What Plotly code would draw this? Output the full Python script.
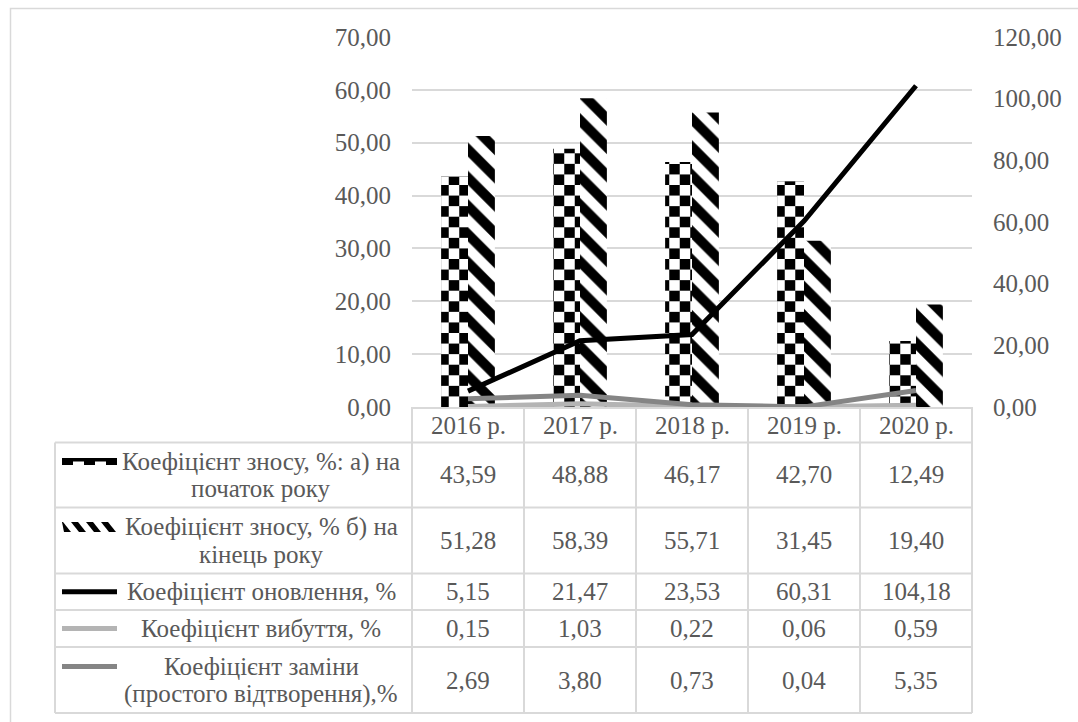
import plotly.graph_objects as go

# ---- data ----
years = ["2016 р.", "2017 р.", "2018 р.", "2019 р.", "2020 р."]
wear_start = [43.59, 48.88, 46.17, 42.70, 12.49]      # Коефіцієнт зносу на початок року
wear_end = [51.28, 58.39, 55.71, 31.45, 19.40]        # Коефіцієнт зносу на кінець року
renewal = [5.15, 21.47, 23.53, 60.31, 104.18]         # Коефіцієнт оновлення
disposal = [0.15, 1.03, 0.22, 0.06, 0.59]             # Коефіцієнт вибуття
replacement = [2.69, 3.80, 0.73, 0.04, 5.35]          # Коефіцієнт заміни

row_labels = [
    ["Коефіцієнт зносу, %: а) на", "початок року"],
    ["Коефіцієнт зносу, % б) на", "кінець року"],
    ["Коефіцієнт оновлення, %"],
    ["Коефіцієнт вибуття, %"],
    ["Коефіцієнт заміни", "(простого відтворення),%"],
]
row_values = [wear_start, wear_end, renewal, disposal, replacement]

# ---- geometry / style ----
W, H = 1078, 722
L, R, T, B = 412, 106, 37, 315
PW, PH = W - L - R, H - T - B
TXT = "#595959"
GRID = "#d9d9d9"
FONT = "Liberation Serif"
FS = 25
LIGHT = "#b4b4b4"
DARK = "#858585"


def fx(px):
    return (px - L) / PW


def fy(py):
    return (H - B - py) / PH


def fmt(v):
    return f"{v:.2f}".replace(".", ",")


idx = list(range(len(years)))
BW = 0.24          # width of one bar in category units
SEG = 2.0          # height of one checker row (left-axis units)

fig = go.Figure()

# checkered bars: vertical stripes, with every second row inverted
fig.add_trace(go.Bar(
    x=idx, y=wear_start, width=BW, offset=-BW, yaxis="y",
    marker=dict(color="white", line=dict(width=0),
                pattern=dict(shape="|", fgcolor="black", bgcolor="white",
                             size=21, solidity=0.5, fillmode="replace")),
    showlegend=False, hoverinfo="skip",
))
cx, cb, ch = [], [], []
for i, v in zip(idx, wear_start):
    k = 1
    while k * SEG < v:
        cx.append(i)
        cb.append(k * SEG)
        ch.append(min(SEG, v - k * SEG))
        k += 2
fig.add_trace(go.Bar(
    x=cx, y=ch, base=cb, width=BW, offset=-BW, yaxis="y",
    marker=dict(color="black", line=dict(width=0),
                pattern=dict(shape="|", fgcolor="white", bgcolor="black",
                             size=21, solidity=0.5, fillmode="replace")),
    showlegend=False, hoverinfo="skip",
))

# hatched bars
fig.add_trace(go.Bar(
    x=idx, y=wear_end, width=BW, offset=0, yaxis="y",
    marker=dict(color="white", line=dict(width=0),
                pattern=dict(shape="\\", fgcolor="black", bgcolor="white",
                             size=20, solidity=0.5, fillmode="replace")),
    showlegend=False, hoverinfo="skip",
))

# lines on the secondary axis
for vals, col in [(renewal, "black"), (disposal, LIGHT), (replacement, DARK)]:
    fig.add_trace(go.Scatter(
        x=idx, y=vals, yaxis="y2", mode="lines",
        line=dict(color=col, width=5), showlegend=False, hoverinfo="skip",
    ))

shapes = []
annotations = []

# outer frame
shapes.append(dict(type="rect", xref="paper", yref="paper",
                   x0=fx(10.5), x1=fx(1200), y0=fy(8.5), y1=fy(800),
                   line=dict(color=GRID, width=1.5), layer="below"))

# data table borders
row_edges = [442.5, 507.5, 573.5, 610, 647, 713]
for py in row_edges:
    shapes.append(dict(type="line", xref="paper", yref="paper",
                       x0=fx(55), x1=1, y0=fy(py), y1=fy(py),
                       line=dict(color=GRID, width=2)))
shapes.append(dict(type="line", xref="paper", yref="paper",
                   x0=fx(55), x1=fx(55), y0=fy(442.5), y1=fy(713),
                   line=dict(color=GRID, width=2)))
for c in range(len(years) + 1):
    shapes.append(dict(type="line", xref="paper", yref="paper",
                       x0=c / len(years), x1=c / len(years), y0=0, y1=fy(713),
                       line=dict(color=GRID, width=2)))

# header labels
for i, lab in zip(idx, years):
    annotations.append(dict(x=i, y=fy(425), xref="x", yref="paper", text=lab,
                            showarrow=False, font=dict(family=FONT, size=FS, color=TXT),
                            xanchor="center", yanchor="middle"))

# table rows
row_bounds = list(zip(row_edges[:-1], row_edges[1:]))
LINE_H = 27
for (top, bot), labels, vals in zip(row_bounds, row_labels, row_values):
    mid = (top + bot) / 2
    for i, v in zip(idx, vals):
        annotations.append(dict(x=i, y=fy(mid), xref="x", yref="paper", text=fmt(v),
                                showarrow=False, font=dict(family=FONT, size=FS, color=TXT),
                                xanchor="center", yanchor="middle"))
    n = len(labels)
    first = mid - (n - 1) * LINE_H / 2
    for j, lab in enumerate(labels):
        annotations.append(dict(x=fx(261), y=fy(first + j * LINE_H), xref="paper", yref="paper",
                                text=lab, showarrow=False,
                                font=dict(family=FONT, size=FS, color=TXT),
                                xanchor="center", yanchor="middle"))

# legend keys inside the table
key_y = [(t + b) / 2 - (len(lab) - 1) * LINE_H / 2 for (t, b), lab in zip(row_bounds, row_labels)]
KX0, KX1 = 62, 117
# checkered key
ky = key_y[0]
bw = (KX1 - KX0) / 5
for k in range(5):
    h = 7 if k % 2 == 0 else 3.5
    shapes.append(dict(type="rect", xref="paper", yref="paper",
                       x0=fx(KX0 + k * bw), x1=fx(KX0 + (k + 1) * bw),
                       y0=fy(ky - 3.5), y1=fy(ky - 3.5 + h),
                       fillcolor="black", line=dict(width=0)))
# hatched key
ky = key_y[1]
for k in range(4):
    x0 = KX0 - 6 + k * 15
    pts = [(max(x0, KX0), ky - 5), (x0 + 7, ky - 5), (min(x0 + 15, KX1), ky + 5), (max(x0 + 8, KX0), ky + 5)]
    path = "M " + " L ".join(f"{fx(a):.5f},{fy(b):.5f}" for a, b in pts) + " Z"
    shapes.append(dict(type="path", xref="paper", yref="paper", path=path,
                       fillcolor="black", line=dict(width=0)))
# line keys
for ky, col in zip(key_y[2:], ["black", LIGHT, DARK]):
    shapes.append(dict(type="line", xref="paper", yref="paper",
                       x0=fx(KX0), x1=fx(KX1), y0=fy(ky), y1=fy(ky),
                       line=dict(color=col, width=5)))

tickfont = dict(family=FONT, size=FS, color=TXT)
fig.update_layout(
    width=W, height=H,
    margin=dict(l=L, r=R, t=T, b=B, autoexpand=False),
    paper_bgcolor="white", plot_bgcolor="white",
    separators=", ",
    barmode="overlay",
    showlegend=False,
    xaxis=dict(range=[-0.5, 4.5], showticklabels=False, showgrid=False, zeroline=False,
               showline=True, linecolor=GRID, linewidth=2, layer="below traces",
               ticks="", fixedrange=True, automargin=False),
    yaxis=dict(range=[0, 70], dtick=10, tickformat=".2f", showgrid=True,
               gridcolor=GRID, gridwidth=1.5, zeroline=False, showline=False,
               tickfont=tickfont, ticks="", ticklabelstandoff=20, automargin=False),
    yaxis2=dict(range=[0, 120], dtick=20, tickformat=".2f", overlaying="y", side="right",
                showgrid=False, zeroline=False, showline=False,
                tickfont=tickfont, ticks="", ticklabelstandoff=20, automargin=False),
    shapes=shapes,
    annotations=annotations,
)

fig.write_html("out.html", config={"displayModeBar": False})
